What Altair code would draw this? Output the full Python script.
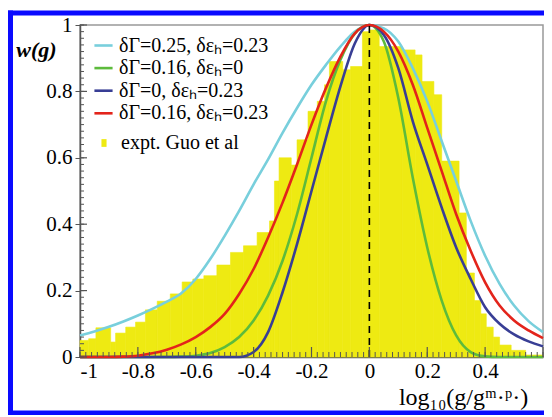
import altair as alt
import pandas as pd

# ---------------- data ----------------
# histogram (experiment, Guo et al): bin edges and heights
bin_lo = [-1.00, -0.97, -0.945, -0.894, -0.877, -0.842, -0.808, -0.774, -0.733, -0.688,
          -0.647, -0.61, -0.572, -0.527, -0.48, -0.435, -0.388, -0.345, -0.328, -0.312,
          -0.27, -0.25, -0.212, -0.18, -0.155, -0.138, -0.092, -0.065, -0.024, 0.0,
          0.034, 0.113, 0.158, 0.182, 0.223, 0.25, 0.31, 0.335, 0.363, 0.385,
          0.404, 0.428, 0.45, 0.49, 0.54]
bin_hi = bin_lo[1:] + [0.6]
bin_h = [0.05, 0.055, 0.088, 0.045, 0.072, 0.09, 0.105, 0.142, 0.168, 0.19,
         0.226, 0.235, 0.245, 0.277, 0.315, 0.335, 0.375, 0.41, 0.53, 0.60,
         0.578, 0.654, 0.74, 0.77, 0.82, 0.89, 0.865, 0.875, 0.98, 0.985,
         0.935, 0.925, 0.91, 0.83, 0.79, 0.59, 0.434, 0.253, 0.17, 0.13,
         0.09, 0.06, 0.036, 0.02, 0.006]

# model curves, read at these x positions
curve_x = [-1.00, -0.95, -0.90, -0.85, -0.80, -0.75, -0.70, -0.65, -0.60, -0.55, -0.50,
           -0.45, -0.40, -0.35, -0.30, -0.25, -0.20, -0.15, -0.10, -0.05, 0.0,
           0.05, 0.10, 0.15, 0.20, 0.25, 0.30, 0.35, 0.40, 0.45, 0.50, 0.55, 0.60]
cyan_y = [0.065, 0.077, 0.091, 0.107, 0.125, 0.145, 0.167, 0.192, 0.235, 0.295, 0.365,
          0.44, 0.52, 0.595, 0.675, 0.75, 0.82, 0.88, 0.935, 0.98, 1.0,
          0.99, 0.95, 0.87, 0.77, 0.65, 0.53, 0.41, 0.305, 0.22, 0.155, 0.108, 0.075]
green_y = [0, 0, 0, 0, 0, 0, 0, 0.001, 0.004, 0.012, 0.03,
           0.06, 0.11, 0.185, 0.29, 0.43, 0.60, 0.77, 0.895, 0.975, 1.0,
           0.95, 0.78, 0.54, 0.33, 0.17, 0.065, 0.015, 0.002, 0, 0, 0, 0]
blue_y = [0, 0, 0, 0, 0, 0, 0, 0, 0, 0, 0,
          0, 0.015, 0.075, 0.195, 0.34, 0.50, 0.66, 0.815, 0.945, 1.0,
          0.97, 0.87, 0.71, 0.58, 0.45, 0.33, 0.235, 0.15, 0.10, 0.068, 0.047, 0.032]
red_y = [0, 0, 0, 0.001, 0.004, 0.011, 0.022, 0.038, 0.06, 0.09, 0.13,
         0.19, 0.265, 0.36, 0.465, 0.58, 0.70, 0.81, 0.905, 0.975, 1.0,
         0.98, 0.92, 0.82, 0.69, 0.56, 0.43, 0.32, 0.225, 0.155, 0.11, 0.08, 0.057]

series_names = ["δΓ=0.25, δεₕ=0.23", "δΓ=0.16, δεₕ=0", "δΓ=0, δεₕ=0.23", "δΓ=0.16, δεₕ=0.23"]
series_colors = ["#78cfdc", "#5dbb3c", "#383e95", "#e3241b"]
hist_name = "expt. Guo et al"
hist_color = "#eeea12"

x_labels = [-1, -0.8, -0.6, -0.4, -0.2, 0, 0.2, 0.4]
y_labels = [0, 0.2, 0.4, 0.6, 0.8, 1]

# ---------------- tables ----------------
hist_df = pd.DataFrame({"lo": bin_lo, "hi": bin_hi, "h": bin_h, "src": hist_name})

rows = []
for name, ys in zip(series_names, [cyan_y, green_y, blue_y, red_y]):
    for xv, yv in zip(curve_x, ys):
        rows.append({"x": xv, "y": yv, "series": name})
curve_df = pd.DataFrame(rows)

minor_x = [round(-1 + 0.02 * i, 2) for i in range(81)]
major_x = [-1, -0.8, -0.6, -0.4, -0.2, 0, 0.2, 0.4, 0.6]
minor_y = [round(0.02 * i, 2) for i in range(51)]

FONT = "Liberation Serif"
xscale = alt.Scale(domain=[-1, 0.6], nice=False, zero=False)
yscale = alt.Scale(domain=[0, 1], nice=False)

W, H = 463, 332

xaxis = alt.Axis(values=x_labels, labelExpr="toString(datum.value)", ticks=False,
                 grid=False, labelPadding=3,
                 title="log₁₀(g/gᵐ·ᵖ·)", titleFontSize=24,
                 titleFontWeight="normal", titleX=383, titleY=47,
                 titleAlign="center", titleBaseline="alphabetic")
yaxis = alt.Axis(values=y_labels, labelExpr="toString(datum.value)", tickSize=5,
                 grid=False, labelPadding=3,
                 title="w(g)", titleAngle=0, titleFontSize=22,
                 titleFontStyle="italic", titleFontWeight="bold",
                 titleX=-44, titleY=24, titleAlign="center", titleBaseline="middle")

bars = alt.Chart(hist_df).mark_rect(stroke=hist_color, strokeWidth=0.6).encode(
    x=alt.X("lo:Q", scale=xscale, axis=xaxis),
    x2="hi:Q",
    y=alt.Y("h:Q", scale=yscale, axis=yaxis),
    y2=alt.datum(0),
    fill=alt.Fill("src:N", scale=alt.Scale(domain=[hist_name], range=[hist_color]),
                  legend=alt.Legend(orient="none", legendX=14, legendY=108, title=None,
                                    symbolType="M-0.33,-0.5H0.33V0.5H-0.33Z",
                                    symbolSize=240, symbolStrokeWidth=0,
                                    labelOffset=7, padding=0)),
)

lines = alt.Chart(curve_df).mark_line(strokeWidth=2.6, interpolate="monotone").encode(
    x=alt.X("x:Q", scale=xscale),
    y=alt.Y("y:Q", scale=yscale),
    color=alt.Color("series:N", sort=series_names,
                    scale=alt.Scale(domain=series_names, range=series_colors),
                    legend=alt.Legend(orient="none", legendX=13, legendY=10, title=None,
                                      symbolType="stroke", symbolSize=330,
                                      symbolStrokeWidth=2.6,
                                      labelOffset=5, rowPadding=1.6, padding=0)),
    order=alt.Order("x:Q"),
)

zero_df = pd.DataFrame({"x": [0], "y0": [0], "y1": [1]})
dashed = alt.Chart(zero_df).mark_rule(color="black", strokeWidth=1.6,
                                      strokeDash=[7, 5]).encode(
    x=alt.X("x:Q", scale=xscale), y=alt.Y("y0:Q", scale=yscale), y2="y1:Q")

xminor = alt.Chart(pd.DataFrame({"t": minor_x})).mark_rule(color="#555555", strokeWidth=1).encode(
    x=alt.X("t:Q", scale=xscale), y=alt.value(H), y2=alt.value(H - 5))
xmajor = alt.Chart(pd.DataFrame({"t": major_x})).mark_rule(color="#555555", strokeWidth=1.2).encode(
    x=alt.X("t:Q", scale=xscale), y=alt.value(H), y2=alt.value(H - 10))
yminor = alt.Chart(pd.DataFrame({"t": minor_y})).mark_rule(color="#555555", strokeWidth=1).encode(
    y=alt.Y("t:Q", scale=yscale), x=alt.value(0), x2=alt.value(4))
ymajor = alt.Chart(pd.DataFrame({"t": y_labels})).mark_rule(color="#555555", strokeWidth=1.2).encode(
    y=alt.Y("t:Q", scale=yscale), x=alt.value(0), x2=alt.value(7))

# blue frame around the figure (left, top, bottom sides)
frame_blue = "#0a0aff"
b_top = alt.Chart(pd.DataFrame({"b": [0]})).mark_rule(color=frame_blue, strokeWidth=5).encode(
    x=alt.value(-72), x2=alt.value(480), y=alt.value(-12))
b_bot = alt.Chart(pd.DataFrame({"b": [0]})).mark_rule(color=frame_blue, strokeWidth=5).encode(
    x=alt.value(-72), x2=alt.value(480), y=alt.value(388))
b_left = alt.Chart(pd.DataFrame({"b": [0]})).mark_rule(color=frame_blue, strokeWidth=5).encode(
    x=alt.value(-69.5), y=alt.value(-14.5), y2=alt.value(390.5))

chart = alt.layer(bars, lines, dashed, xminor, xmajor, yminor, ymajor,
                  b_top, b_bot, b_left).properties(
    width=W, height=H,
    autosize=alt.AutoSizeParams(type="none"),
    padding={"left": 72, "top": 17, "right": 1, "bottom": 58},
    background="white",
).configure_view(
    stroke="#999999", strokeWidth=1.5
).configure_axis(
    labelFont=FONT, labelFontSize=21, labelColor="black",
    titleFont=FONT, titleColor="black",
    domainColor="#555555", domainWidth=1.5, tickColor="#555555",
).configure_legend(
    labelFont=FONT, labelFontSize=20, labelColor="black", labelLimit=400,
).resolve_legend(fill="independent", color="independent")

chart.save("out.html", embed_options={"renderer": "svg", "actions": False})
